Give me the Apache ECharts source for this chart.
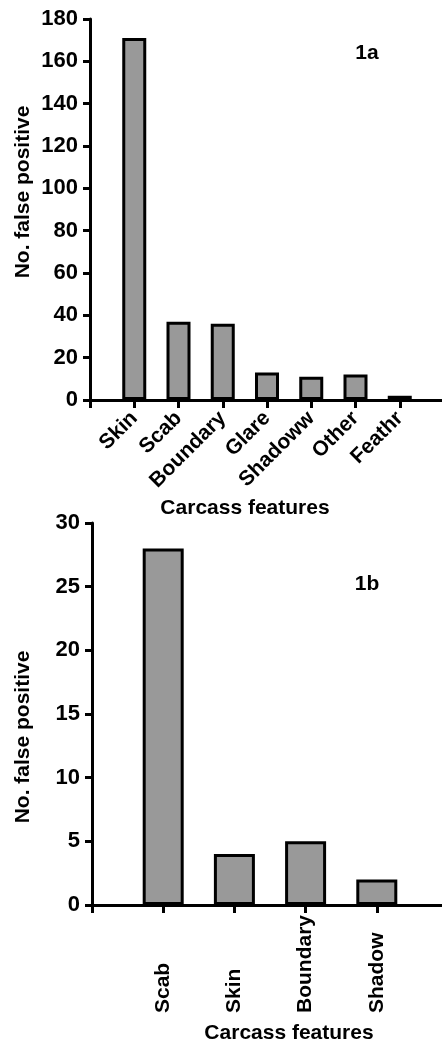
<!DOCTYPE html>
<html>
<head>
<meta charset="utf-8">
<script src="https://cdn.jsdelivr.net/npm/echarts@6/dist/echarts.min.js"></script>
<style>
  html, body { margin: 0; padding: 0; background: #fff; }
  #main { width: 442px; height: 1045px; }
</style>
</head>
<body>
<div id="main"></div>
<script>
// figure 1a
var catsA = ['Skin', 'Scab', 'Boundary', 'Glare', 'Shadoww', 'Other', 'Feathr'];
var valsA = [171, 37, 36, 13, 11, 12, 2];
var ticksA = { min: 0, max: 180, step: 20 };

// figure 1b
var catsB = ['Scab', 'Skin', 'Boundary', 'Shadow'];
var valsB = [28, 4, 5, 2];
var ticksB = { min: 0, max: 30, step: 5 };

var FONT = '"Liberation Sans", Arial, Helvetica, sans-serif';
var myChart = echarts.init(document.getElementById('main'));

// empty slot on each end so the bars sit away from the axes
function pad(arr, fill) { return [fill].concat(arr, [fill]); }

function xAxisOf(idx, cats, rotate, margin, align) {
    var n = cats.length + 2;
    var lbl = {
        interval: 0, rotate: rotate, margin: margin,
        color: '#000', fontFamily: FONT, fontWeight: 'bold', fontSize: 21
    };
    if (align) lbl.align = align;
    return {
        type: 'category', gridIndex: idx, data: pad(cats, ''),
        boundaryGap: false,
        axisLine: { lineStyle: { color: '#000', width: 3 } },
        axisTick: {
            length: 8, lineStyle: { color: '#000', width: 3 },
            interval: function (i) { return i < n - 1; }
        },
        axisLabel: lbl,
        splitLine: { show: false }
    };
}

function yAxisOf(idx, t) {
    return {
        type: 'value', gridIndex: idx, min: t.min, max: t.max, interval: t.step,
        axisLine: { show: true, lineStyle: { color: '#000', width: 3 } },
        axisTick: { show: true, length: 7, lineStyle: { color: '#000', width: 3 } },
        axisLabel: { margin: 12, color: '#000', fontFamily: FONT, fontWeight: 'bold', fontSize: 22 },
        splitLine: { show: false }
    };
}

function txt(x, y, s, rot) {
    return {
        type: 'text', x: x, y: y, rotation: rot || 0,
        style: {
            text: s, fill: '#000', align: 'center', verticalAlign: 'middle',
            font: 'bold 21px ' + FONT
        }
    };
}

myChart.setOption({
    animation: false,
    grid: [
        { left: 90, top: 19, width: 354, height: 381, outerBoundsMode: 'none', containLabel: false },
        { left: 92, top: 523, width: 356, height: 382, outerBoundsMode: 'none', containLabel: false }
    ],
    xAxis: [
        xAxisOf(0, catsA, 45, 15),
        xAxisOf(1, catsB, 90, 108, 'left')
    ],
    yAxis: [
        yAxisOf(0, ticksA),
        yAxisOf(1, ticksB)
    ],
    series: [{
        type: 'bar', xAxisIndex: 0, yAxisIndex: 0,
        data: pad(valsA, '-'), barWidth: 24,
        itemStyle: { color: '#999999', borderColor: '#000', borderWidth: 3 }
    }, {
        type: 'bar', xAxisIndex: 1, yAxisIndex: 1,
        data: pad(valsB, '-'), barWidth: 41,
        itemStyle: { color: '#999999', borderColor: '#000', borderWidth: 3 }
    }],
    graphic: [
        txt(23, 192, 'No. false positive', Math.PI / 2),
        txt(245, 508, 'Carcass features'),
        txt(367, 53, '1a'),
        txt(23, 737, 'No. false positive', Math.PI / 2),
        txt(289, 1033, 'Carcass features'),
        txt(367, 584, '1b')
    ]
});
</script>
</body>
</html>
